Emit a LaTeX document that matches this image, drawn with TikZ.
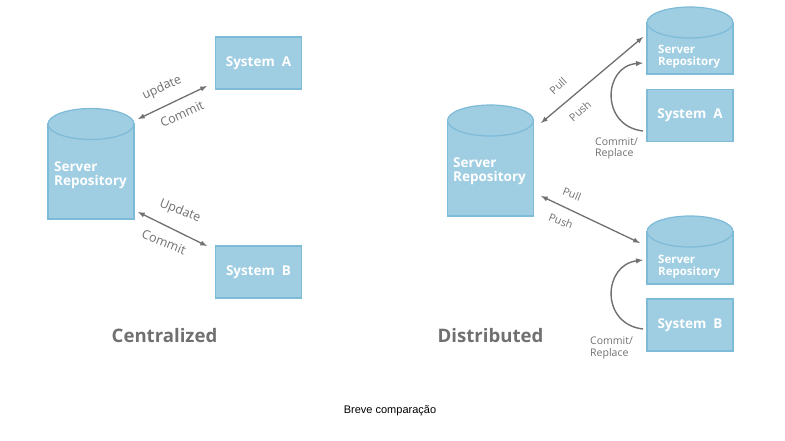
\documentclass[tikz,border=0pt]{standalone}
\usepackage{fontspec}
\setmainfont{Open Sans}
\newfontfamily\captionfont{Liberation Sans}
\usetikzlibrary{shapes.geometric}
\definecolor{boxfill}{HTML}{9FCDE2}
\definecolor{boxline}{HTML}{7DBBD8}
\definecolor{inkgrey}{HTML}{707070}
\tikzset{
  sysbox/.style={draw=boxline,line width=1.2pt,fill=boxfill,text=white,inner sep=0pt,
    minimum width=86pt,minimum height=52pt,font=\fontsize{13.5}{14}\selectfont\bfseries},
  srvbody/.style={rectangle,draw=boxline,line width=1.2pt,fill=boxfill,inner sep=0pt,minimum width=86pt},
  srvtop/.style={ellipse,draw=boxline,line width=1.2pt,fill=boxfill,inner sep=0pt,
    minimum width=86pt,minimum height=31pt},
  srvtext/.style={text=white,align=left,anchor=west,inner sep=0pt,
    font=\fontsize{13.5}{14}\selectfont\bfseries},
  srvsmall/.style={srvtext,font=\fontsize{11.5}{12}\selectfont\bfseries},
  twoway/.style={draw=inkgrey,line width=1.3pt,latex-latex},
  curved/.style={draw=inkgrey,line width=1.4pt,-latex},
  tagtext/.style={text=inkgrey,inner sep=0pt,font=\fontsize{12.5}{12}\selectfont},
  tagnarrow/.style={tagtext,font=\fontsize{10.8}{11}\selectfont},
  tagsmall/.style={tagtext,align=left,anchor=west,font=\fontsize{10.5}{11.5}\selectfont},
  titletext/.style={text=inkgrey,inner sep=0pt,font=\fontsize{18.6}{20}\selectfont\bfseries},
}
\begin{document}
\begin{tikzpicture}[x=1pt,y=-1pt]
  \useasboundingbox (0,0) rectangle (785,440);

  % Centralized
  \node[srvbody,minimum height=95pt] (srvC) at (91,171.5) {};
  \node[srvtop] (srvCtop) at (91,124) {};
  \node[srvtext] (srvCtext) at (54,175) {Server\\Repository};
  \node[sysbox] (sysA) at (258.5,63) {System~~A};
  \node[sysbox] (sysB) at (258.5,272) {System~~B};
  \draw[twoway] ([shift={(47,-5)}]srvCtop.center) -- ([shift={(-51.5,23)}]sysA.center);
  \draw[twoway] ([shift={(47,40.5)}]srvC.center) -- ([shift={(-51.5,-26)}]sysB.center);
  \node[tagtext,rotate=25] (updA) at (162,88) {update};
  \node[tagtext,rotate=25] (comA) at (182,114) {Commit};
  \node[tagtext,rotate=-22] (updB) at (180,211) {Update};
  \node[tagtext,rotate=-22] (comB) at (164,242) {Commit};
  \node[titletext] (titleC) at (164.5,335.5) {Centralized};

  % Distributed
  \node[srvbody,minimum height=95.5pt] (srvD) at (490.5,168.25) {};
  \node[srvtop] (srvDtop) at (490.5,120.5) {};
  \node[srvtext] (srvDtext) at (453,171.5) {Server\\Repository};
  \node[srvbody,minimum height=51.5pt] (srvT) at (690,48.25) {};
  \node[srvtop] (srvTtop) at (690,22.5) {};
  \node[srvsmall] (srvTtext) at (658,56.5) {Server\\Repository};
  \node[sysbox] (sysC) at (690,115.5) {System~~A};
  \node[srvbody,minimum height=52.5pt] (srvU) at (690,257.75) {};
  \node[srvtop] (srvUtop) at (690,231.5) {};
  \node[srvsmall] (srvUtext) at (658,266.5) {Server\\Repository};
  \node[sysbox] (sysD) at (690,325) {System~~B};
  \draw[twoway] ([shift={(50.5,2.5)}]srvDtop.center) -- ([shift={(-47,-11.25)}]srvT.center);
  \draw[twoway] ([shift={(50.5,27.75)}]srvD.center) -- ([shift={(-50,-14.75)}]srvU.center);
  \draw[curved] ([shift={(-47,15.5)}]sysC.center) .. controls (600,126) and (603,66) .. ([shift={(-47,14.75)}]srvT.center);
  \draw[curved] ([shift={(-47,4)}]sysD.center) .. controls (600,324) and (603,265) .. ([shift={(-47,2.25)}]srvU.center);
  \node[tagnarrow,rotate=42] (pullT) at (558,86) {Pull};
  \node[tagnarrow,rotate=42] (pushT) at (580,111) {Push};
  \node[tagnarrow,rotate=-22] (pullU) at (572,194) {Pull};
  \node[tagnarrow,rotate=-22] (pushU) at (561,221) {Push};
  \node[tagsmall] (comT) at (595,148.5) {Commit/\\Replace};
  \node[tagsmall] (comU) at (590,348) {Commit/\\Replace};
  \node[titletext] (titleD) at (490.5,335.5) {Distributed};

  % Caption
  \node[inner sep=0pt,font=\captionfont\fontsize{11}{12}\selectfont] (caption) at (390,411) {Breve comparação};
\end{tikzpicture}
\end{document}
